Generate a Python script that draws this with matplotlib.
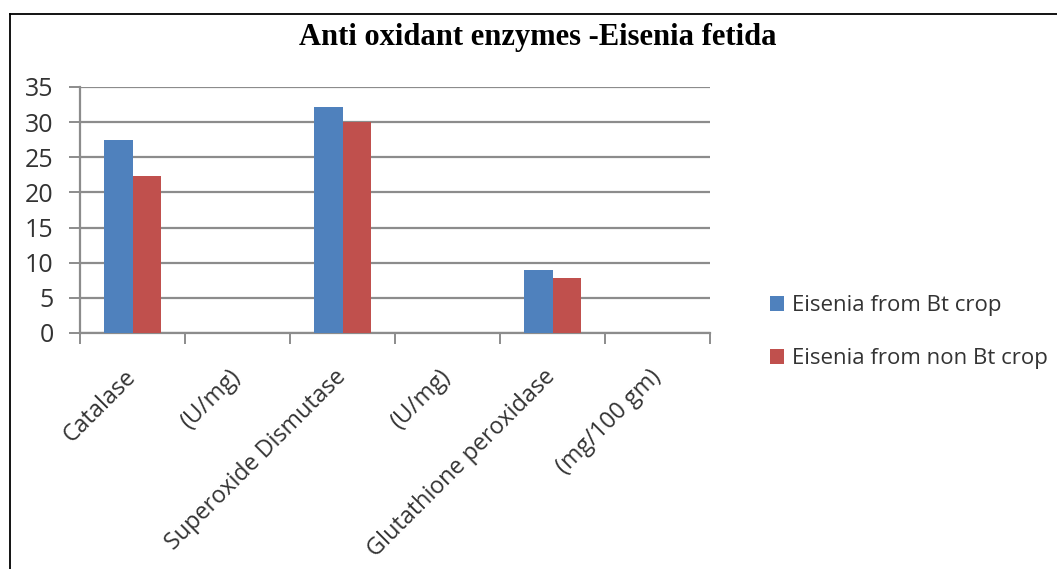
import matplotlib
matplotlib.use("Agg")
import matplotlib.pyplot as plt
import matplotlib.transforms as mtransforms
from matplotlib.lines import Line2D
import numpy as np

categories = ["Catalase", "(U/mg)", "Superoxide Dismutase", "(U/mg)",
              "Glutathione peroxidase", "(mg/100 gm)"]
bt_values = [27.5, 0, 32.2, 0, 9.0, 0]
non_bt_values = [22.3, 0, 30.0, 0, 7.8, 0]
series_names = ["Eisenia from Bt crop", "Eisenia from non Bt crop"]
title = "Anti oxidant enzymes -Eisenia fetida"
yticks = [0, 5, 10, 15, 20, 25, 30, 35]

W, H = 1057, 569
fig = plt.figure(figsize=(W / 100, H / 100), dpi=100)
fig.patch.set_facecolor("white")

ax = fig.add_axes([80 / W, 1 - 333 / H, 630 / W, (333 - 87) / H])

x = np.arange(len(categories))
bw = 0.275
b1 = ax.bar(x - bw / 2, bt_values, bw, color="#4F81BD", label=series_names[0], zorder=3)
b2 = ax.bar(x + bw / 2, non_bt_values, bw, color="#C0504D", label=series_names[1], zorder=3)

ax.set_xlim(-0.5, len(categories) - 0.5)
ax.set_ylim(0, 35)
ax.set_yticks(yticks)
ax.yaxis.grid(True, color="#8c8c8c", linewidth=1.6, zorder=0)
ax.set_axisbelow(True)

for s in ["top", "right"]:
    ax.spines[s].set_visible(False)
ax.spines["left"].set_color("#8c8c8c")
ax.spines["left"].set_linewidth(1.6)
ax.spines["bottom"].set_color("#8c8c8c")
ax.spines["bottom"].set_linewidth(1.6)

tickfont = "Open Sans"
ax.tick_params(axis="y", length=8, width=1.4, color="#8c8c8c", labelsize=18,
               labelcolor="#333333", pad=11)
for lab in ax.get_yticklabels():
    lab.set_fontfamily(tickfont)

ax.set_xticks(x)
ax.set_xticks(np.arange(-0.5, len(categories), 1.0), minor=True)
ax.tick_params(axis="x", which="major", length=0, pad=23)
ax.tick_params(axis="x", which="minor", length=8, width=1.4, color="#8c8c8c")
ax.set_xticklabels(categories, rotation=45, ha="right", va="top",
                   fontsize=16.8, fontfamily=tickfont, color="#333333")
offset = mtransforms.ScaledTranslation(8 / 100, 0, fig.dpi_scale_trans)
for lab in ax.get_xticklabels():
    lab.set_transform(lab.get_transform() + offset)

fig.text(538 / W, 1 - 37 / H, title, ha="center", va="center",
         fontsize=22, fontweight="bold", fontfamily="Liberation Serif", color="black")

fig.legend(handles=[b1, b2], labels=series_names, loc="center left",
           bbox_to_anchor=(750 / W, 1 - 332 / H), frameon=False,
           prop={"family": tickfont, "size": 16}, handlelength=0.65,
           handleheight=0.65, handletextpad=0.35, labelspacing=1.45,
           labelcolor="#333333")

# outer border (top and left)
fig.add_artist(Line2D([9.5 / W, 9.5 / W], [0, 1 - 14 / H], transform=fig.transFigure,
                      color="black", linewidth=1.3))
fig.add_artist(Line2D([9.5 / W, 1], [1 - 14 / H, 1 - 14 / H], transform=fig.transFigure,
                      color="black", linewidth=1.3))

fig.savefig("out.png", dpi=100)
